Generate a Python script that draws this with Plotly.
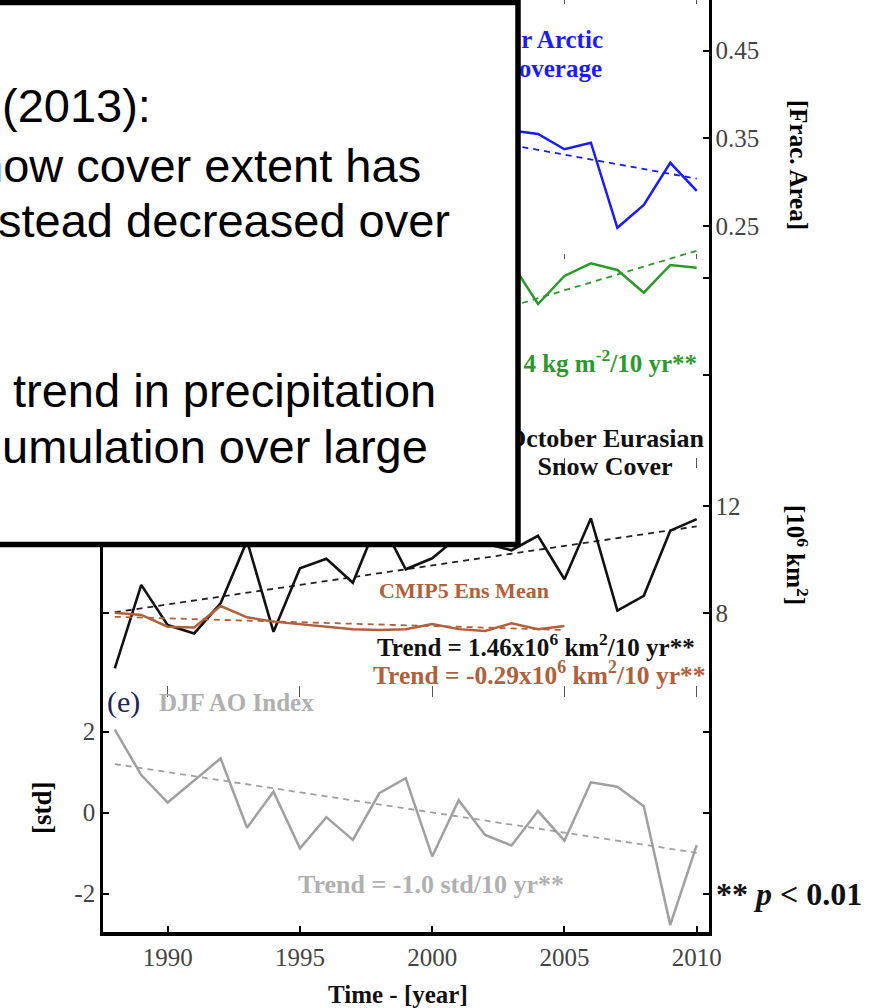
import plotly.graph_objects as go

W, H = 878, 1008

# ---------------- data ----------------
years = list(range(1988, 2011))
snow_oct = [5.95, 9.06, 7.56, 7.25, 8.37, 10.70, 7.31, 9.68, 10.03, 9.14, 11.55, 9.64,
            10.05, 10.87, 10.60, 10.35, 10.89, 9.27, 11.54, 8.10, 8.65, 11.08, 11.51]
ao_djf = [2.05, 0.93, 0.25, 0.80, 1.34, -0.37, 0.52, -0.88, -0.11, -0.67, 0.48, 0.85,
          -1.08, 0.31, -0.55, -0.81, 0.04, -0.69, 0.75, 0.64, 0.16, -2.77, -0.80]
cmip_years = list(range(1988, 2006))
cmip_snow = [8.02, 7.94, 7.50, 7.47, 8.27, 7.85, 7.69, 7.60, 7.50, 7.41, 7.38, 7.41,
             7.60, 7.41, 7.34, 7.63, 7.41, 7.53]
part_years = list(range(2003, 2011))
blue_frac = [0.359, 0.355, 0.3375, 0.345, 0.248, 0.274, 0.322, 0.290]
green_val = [1.158, 0.734, 1.024, 1.155, 1.086, 0.851, 1.138, 1.110]

trend_full_years = [1988, 2010]
snow_trend = [8.04, 11.24]
ao_trend = [1.20, -0.99]
cmip_trend_years = [1988, 2005]
cmip_trend = [7.87, 7.38]
part_trend_years = [2003, 2010]
blue_trend = [0.3423, 0.304]
green_trend = [0.712, 1.285]

x_ticks = [1990, 1995, 2000, 2005, 2010]

# ---------------- geometry helpers ----------------
def px_x(px):
    return px / W

def px_y(py):
    return 1 - py / H

X_L, X_R, Y_B = 103.2, 708.5, 932.0


def year_at(px):
    return 1990 + (px - 167.7) / 26.45


def lin_range(v1, p1, v2, p2):
    k = (v2 - v1) / (p2 - p1)
    return [v1 + k * (Y_B - p1), v1 + k * (0 - p1)]


SERIF = "Liberation Serif"
SANS = "Liberation Sans"
BLUE = "#1a1aff"
GREEN = "#2b9a2b"
BROWN = "#b0603a"
GREYL = "#a0a0a0"
GREYT = "#b0b0b0"

fig = go.Figure()

# ---------------- traces ----------------
fig.add_trace(go.Scatter(x=years, y=ao_djf, mode="lines", xaxis="x", yaxis="y",
                         line=dict(color=GREYL, width=2.5)))
fig.add_trace(go.Scatter(x=trend_full_years, y=ao_trend, mode="lines", xaxis="x2", yaxis="y",
                         line=dict(color=GREYL, width=1.8, dash="6px,5px")))
fig.add_trace(go.Scatter(x=trend_full_years, y=snow_trend, mode="lines", xaxis="x", yaxis="y2",
                         line=dict(color="#222", width=1.8, dash="6px,5px")))
fig.add_trace(go.Scatter(x=cmip_trend_years, y=cmip_trend, mode="lines", xaxis="x3", yaxis="y2",
                         line=dict(color=BROWN, width=1.8, dash="6px,5px")))
fig.add_trace(go.Scatter(x=years, y=snow_oct, mode="lines", xaxis="x", yaxis="y2",
                         line=dict(color="#111", width=2.6)))
fig.add_trace(go.Scatter(x=cmip_years, y=cmip_snow, mode="lines", xaxis="x", yaxis="y2",
                         line=dict(color=BROWN, width=2.5)))
fig.add_trace(go.Scatter(x=part_trend_years, y=blue_trend, mode="lines", xaxis="x4", yaxis="y3",
                         line=dict(color=BLUE, width=1.8, dash="6px,5px")))
fig.add_trace(go.Scatter(x=part_years, y=blue_frac, mode="lines", xaxis="x", yaxis="y3",
                         line=dict(color=BLUE, width=2.5)))
fig.add_trace(go.Scatter(x=part_trend_years, y=green_trend, mode="lines", xaxis="x5", yaxis="y4",
                         line=dict(color=GREEN, width=1.8, dash="6px,5px")))
fig.add_trace(go.Scatter(x=part_years, y=green_val, mode="lines", xaxis="x", yaxis="y4",
                         line=dict(color=GREEN, width=2.5)))

# labels that sit partly under the white box (drawn as text so the box hides them)
def under_label(text, px, baseline, fs, color, pos):
    fig.add_trace(go.Scatter(x=[px], y=[baseline - 0.25 * fs], mode="text", text=[text],
                             textposition=pos, cliponaxis=False, xaxis="x9", yaxis="y9",
                             textfont=dict(family=SERIF, size=fs, color=color)))

under_label("<b>October Eurasian</b>", 605, 446.7, 26, "#111", "middle center")
under_label("<b>Snow Cover</b>", 605, 475, 26, "#111", "middle center")
under_label("<b>r Arctic</b>", 603, 48.3, 25, BLUE, "middle left")
under_label("<b>Coverage</b>", 602, 77, 25, BLUE, "middle left")
under_label("<b>4 kg m<sup>-2</sup>/10 yr**</b>", 697, 371.7, 25, GREEN, "middle left")

# ---------------- axes ----------------
xrng = [year_at(X_L), year_at(X_R)]
xdom = [px_x(X_L), px_x(X_R)]
ydom = [px_y(Y_B), 1]
tickfont = dict(family=SERIF, size=25, color="#444")

layout = dict(
    width=W, height=H, autosize=False, margin=dict(l=0, r=0, t=0, b=0, autoexpand=False),
    paper_bgcolor="white", plot_bgcolor="rgba(0,0,0,0)", showlegend=False,
    xaxis=dict(domain=xdom, range=xrng, anchor="y", showline=True, linewidth=4,
               linecolor="black", ticks="inside", ticklen=6, tickwidth=1.5,
               tickcolor="black", tickvals=x_ticks, showgrid=False, zeroline=False,
               tickfont=tickfont),
    yaxis=dict(domain=ydom, range=lin_range(0, 812.7, 2, 731.7), anchor="x",
               showline=True, linewidth=3, linecolor="black", mirror="ticks",
               ticks="inside", ticklen=6, tickwidth=1.5, tickcolor="black",
               tickvals=[-2, 0, 2], ticktext=["-2", "0", "2"], showgrid=False,
               zeroline=False, tickfont=tickfont),
    yaxis2=dict(overlaying="y", side="right", anchor="x",
                range=lin_range(8, 613.3, 12, 506), showline=False, mirror="ticks",
                ticks="inside", ticklen=6, tickwidth=1.5, tickcolor="black",
                tickvals=[8, 12], ticktext=["8", "12"], showgrid=False, zeroline=False,
                tickfont=tickfont, ticklabelstandoff=6),
    yaxis3=dict(overlaying="y", side="right", anchor="x",
                range=lin_range(0.35, 138.3, 0.25, 226), showline=False,
                ticks="inside", ticklen=6, tickwidth=1.5, tickcolor="black",
                tickvals=[0.25, 0.35, 0.45], ticktext=["0.25", "0.35", "0.45"],
                showgrid=False, zeroline=False, tickfont=tickfont, ticklabelstandoff=6),
    yaxis4=dict(overlaying="y", side="right", anchor="x",
                range=lin_range(0, 375, 1, 278.3), showline=False,
                ticks="inside", ticklen=6, tickwidth=1.5, tickcolor="black",
                tickvals=[0, 1], showticklabels=False, showgrid=False, zeroline=False),
    xaxis9=dict(domain=[0, 1], range=[0, W], anchor="y9", visible=False),
    yaxis9=dict(domain=[0, 1], range=[H, 0], anchor="x9", visible=False),
)
# small tick rows of the stacked panels
for name, py, tl in [("xaxis2", 697, 11), ("xaxis3", 468, 10), ("xaxis4", 259, 5), ("xaxis5", 4, 4)]:
    layout[name] = dict(overlaying="x", anchor="free", position=px_y(py), range=xrng,
                        ticks="inside", ticklen=tl, tickwidth=1, tickcolor="#555",
                        tickvals=x_ticks, showticklabels=False, showline=False,
                        showgrid=False, zeroline=False)
fig.update_layout(**layout)

# ---------------- white text box ----------------
fig.add_shape(type="rect", xref="paper", yref="paper", x0=px_x(-20), x1=px_x(518),
              y0=px_y(2.5), y1=px_y(544.5), line=dict(color="black", width=5.5),
              fillcolor="white", layer="above")

annotations = []

def ann(text, px, baseline, fs, xanchor="left", color="black", family=SERIF, k=0.34):
    annotations.append(dict(text=text, x=px_x(px), y=px_y(baseline - k * fs), xref="paper",
                            yref="paper", xanchor=xanchor, yanchor="middle", showarrow=False,
                            font=dict(family=family, size=fs, color=color)))

def rot(text, cx, cy, fs, angle):
    annotations.append(dict(text=text, x=px_x(cx), y=px_y(cy), xref="paper", yref="paper",
                            xanchor="center", yanchor="middle", showarrow=False,
                            textangle=angle, font=dict(family=SERIF, size=fs, color="black")))

# box text
BOXFS = 47
ann("(2013):", 0, 122, BOXFS, family=SANS, k=0.35)
ann("now cover extent has", -25, 182, BOXFS, family=SANS, k=0.35)
ann("stead decreased over", -4, 237, BOXFS, family=SANS, k=0.35)
ann("trend in precipitation", 11, 407, BOXFS, family=SANS, k=0.35)
ann("umulation over large", 0, 463, BOXFS, family=SANS, k=0.35)

# panel labels
ann("(e)", 105, 711.7, 30, color="#1c2458")
ann("<b>DJF AO Index</b>", 157, 711, 25, color=GREYT)
ann("<b>Trend = -1.0 std/10 yr**</b>", 296, 893, 26, color=GREYT)
ann("<b>CMIP5 Ens Mean</b>", 464, 598.3, 22, xanchor="center", color=BROWN)
ann("<b>Trend = 1.46x10<sup>6</sup> km<sup>2</sup>/10 yr**</b>", 697, 653, 25,
    xanchor="right", color="#111")
ann("<b>Trend = -0.29x10<sup>6</sup> km<sup>2</sup>/10 yr**</b>", 708, 681.7, 25.5,
    xanchor="right", color=BROWN)
ann("<b>** <i>p</i> &lt; 0.01</b>", 714, 905, 32, color="#111")
ann("<b>Time - [year]</b>", 398, 1003, 25, xanchor="center", color="#111")

rot("<b>[Frac. Area]</b>", 798, 165, 25, 90)
rot("<b>[10<sup>6</sup> km<sup>2</sup>]</b>", 797, 555, 25, 90)
rot("<b>[std]</b>", 42, 808, 27, -90)

fig.update_layout(annotations=annotations)

fig.write_html("out.html", config={"displayModeBar": False, "responsive": False},
               post_script="document.documentElement.style.overflow='hidden';"
                           "document.body.style.margin='0';document.body.style.overflow='hidden';")
